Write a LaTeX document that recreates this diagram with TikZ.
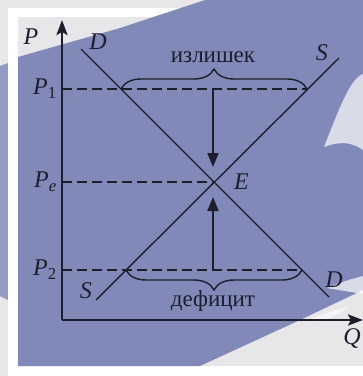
\documentclass[tikz,border=0pt]{standalone}
\usepackage{fontspec}
\setmainfont{Liberation Serif}
\usetikzlibrary{arrows.meta, positioning, decorations.pathreplacing}
\definecolor{cbg}{HTML}{E7E7EA}
\definecolor{cblue}{HTML}{8189B8}
\definecolor{cline}{HTML}{1C1E2C}

\begin{document}
\begin{tikzpicture}[
  x=1pt, y=-1pt,
  font=\fontsize{23}{27}\selectfont,
  axis/.style={line width=2.6pt, draw=cline, -{Stealth[length=15pt, width=11pt, inset=3pt]}},
  curve/.style={line width=1.4pt, draw=cline},
  level/.style={line width=1.6pt, draw=cline, dash pattern=on 10pt off 5pt},
  pricemove/.style={line width=2pt, draw=cline, -{Triangle[length=14pt, width=11pt]}},
  bracket/.style={line width=1.4pt, draw=cline, decorate, decoration={brace, amplitude=20pt}},
  lbl/.style={text=cline, inner sep=1pt, font=\fontsize{24}{28}\selectfont\itshape},
  word/.style={text=cline, inner sep=1pt},
  ]
% background
\useasboundingbox (0,0) rectangle (363,376);
\fill[cbg] (0,0) rectangle (363,376);
\draw[white, line width=9.5pt] (13,12.5) rectangle (390,371);
\fill[cblue] (18,57) -- (120,28) -- (205,0) -- (363,0) -- (363,290)
  -- (300,320) -- (200,366) -- (18,366) -- cycle;
\fill[cblue!85!white] (0,66) -- (8,63) -- (8,300) -- (0,296) -- cycle;
\fill[white, opacity=.7] (363,74) .. controls (350,78) and (338,112) .. (324,147)
  .. controls (340,141) and (352,142) .. (363,150) -- cycle;
\fill[white, opacity=.7] (363,276) .. controls (348,280) .. (327,288)
  .. controls (345,291) .. (363,294) -- cycle;
\fill[white, opacity=.6] (312,318) .. controls (330,312) .. (350,306)
  .. controls (335,316) .. (318,322) -- cycle;

% points
\coordinate (O) at (62,320);
\coordinate (ytop) at (62,20);
\coordinate (xend) at (363,320);
\coordinate (d1) at (81,49);
\coordinate (d2) at (329,297);
\coordinate (s1) at (96,300);
\coordinate (s2) at (339,58);
\coordinate (E) at (213,182);
\coordinate (p1) at (62,89);
\coordinate (pe) at (62,182);
\coordinate (p2) at (62,270);
\coordinate (dp1) at (121,89);
\coordinate (sp1) at (307,89);
\coordinate (sp2) at (126,270);
\coordinate (dp2) at (302,270);
\coordinate (m1) at (213,89);
\coordinate (m2) at (213,270);
\coordinate (t1) at (213,167);
\coordinate (t2) at (213,197);

% axes
\draw[axis] (O) -- (ytop);
\draw[axis] (O) -- (xend);

% price levels
\draw[level] (p1) -- (sp1);
\draw[level] (pe) -- (E);
\draw[level] (p2) -- (dp2);

% demand and supply
\draw[curve] (d1) -- (d2);
\draw[curve] (s1) -- (s2);

% surplus and shortage
\draw[bracket] (dp1) -- (sp1);
\draw[bracket] (dp2) -- (sp2);
\draw[pricemove] (m1) -- (t1);
\draw[pricemove] (m2) -- (t2);

% labels
\node[lbl] (lp) at (31,37) {P};
\node[lbl, anchor=east] (lq) at (362,338) {Q};
\node[lbl] (ld1) at (98,42) {D};
\node[lbl] (ls1) at (322,53) {S};
\node[lbl] (ld2) at (334,280) {D};
\node[lbl] (ls2) at (86,291) {S};
\node[lbl, right=20pt of E] (le) {E};
\node[lbl, anchor=east] (lp1) at (58,89) {P\textsubscript{\upshape 1}};
\node[lbl, anchor=east] (lpe) at (58,182) {P\textsubscript{e}};
\node[lbl, anchor=east] (lp2) at (58,270) {P\textsubscript{\upshape 2}};
\node[word] (surplus) at (213,57) {излишек};
\node[word] (deficit) at (213,301) {дефицит};
\end{tikzpicture}
\end{document}
